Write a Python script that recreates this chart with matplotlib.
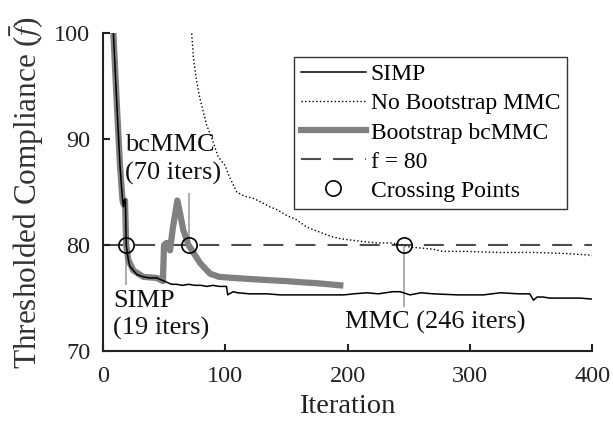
import matplotlib
matplotlib.use("Agg")
import matplotlib.pyplot as plt

plt.rcParams['font.family'] = ['Liberation Serif', 'DejaVu Serif']
plt.rcParams['mathtext.fontset'] = 'stix'

# ---- data ----
simp_x = [5, 8.5, 11, 13.9, 16, 16.8, 17.5, 18.3, 19, 20.7, 22, 24.8, 28, 33, 38, 44, 48, 52, 56, 60,
          65, 70, 75, 80, 85, 90, 95, 101, 102, 103.3, 106.6, 110, 120, 134, 145, 161, 175, 197, 205,
          216, 225, 237, 243, 251, 260, 270, 290, 311, 325, 340, 349, 352, 355, 360, 365, 379, 390, 400]
simp_y = [110, 100, 94, 87.5, 84.2, 83.6, 84.3, 84.3, 80, 78.6, 78.0, 77.6, 77.2, 77.0, 76.9, 76.9, 76.7,
          76.5, 76.3, 76.3, 76.2, 76.3, 76.2, 76.2, 76.1, 76.2, 76.1, 76.1, 75.3, 75.4, 75.6, 75.5, 75.4,
          75.4, 75.3, 75.3, 75.3, 75.3, 75.4, 75.5, 75.4, 75.6, 75.6, 75.3, 75.5, 75.4, 75.3, 75.3, 75.5,
          75.4, 75.4, 74.8, 75.1, 75.1, 75.0, 75.0, 75.0, 74.9]

mmc_x = [70, 72.5, 74, 76.6, 79.3, 82, 84.8, 88.9, 94.3, 99.8, 103.9, 109.4, 116, 123, 130, 136.6, 143,
         150, 158, 166.6, 173, 180, 187, 194, 207.5, 215, 224, 235, 240, 246, 251, 262, 270, 278, 297.5,
         310, 324.7, 351.9, 379, 398, 400]
mmc_y = [102, 100, 97.6, 95.4, 93.8, 92.6, 91.3, 90.1, 88.3, 87.5, 86.3, 85.0, 84.6, 84.4, 84.0, 83.6,
         83.3, 82.8, 82.4, 81.7, 81.4, 81.1, 80.8, 80.6, 80.4, 80.3, 80.2, 80.2, 80.1, 80.0, 79.8, 79.7,
         79.6, 79.4, 79.4, 79.35, 79.3, 79.3, 79.2, 79.05, 79.0]

bc_x = [5, 8.5, 11, 13.9, 16, 17, 18, 19, 20.7, 24.8, 33, 44, 49, 49.9, 52, 54.8, 57, 60.8, 63, 65.7,
        70, 75, 79.4, 87.5, 95, 106.6, 120, 134, 150, 161, 175, 185, 194]
bc_y = [110, 100, 94, 87.5, 84.2, 83.8, 84.2, 80, 78.6, 77.6, 77.0, 76.9, 76.6, 80, 80.2, 79.5, 81.5,
        84.2, 83.0, 81.4, 80, 79.1, 78.3, 77.3, 77.0, 76.9, 76.8, 76.7, 76.6, 76.5, 76.4, 76.3, 76.2]

threshold = 80
cross_x = [19, 70, 246]
cross_y = [80, 80, 80]
pointer_x = [19, 70, 246]
pointer_y0 = [83.6, 84.9, 80]
pointer_y1 = [76.2, 80, 74.2]

xticks = [0, 100, 200, 300, 400]
yticks = [70, 80, 90, 100]

# ---- figure ----
fig = plt.figure(figsize=(6.13, 4.22), dpi=100)
ax = fig.add_axes([0.168, 0.168, 0.798, 0.754])

gray = '#808080'
ax.vlines(pointer_x, pointer_y1, pointer_y0, colors='#a0a0a0', lw=1.2, zorder=1)
ax.plot(simp_x, simp_y, color='black', lw=1.1, label='SIMP', zorder=4)
ax.plot(mmc_x, mmc_y, color='black', lw=1.0, ls=':', label='No Bootstrap MMC', zorder=3)
ax.plot(bc_x, bc_y, color=gray, lw=4.5, label='Bootstrap bcMMC', zorder=2, solid_joinstyle='round')
ax.axhline(threshold, color='#4d4d4d', lw=1.5, dashes=(9.6, 5.8), label='f = 80', zorder=1.5)
ax.plot(cross_x, cross_y, ls='none', marker='o', ms=11, mfc='none', mec='black', mew=1.2,
        label='Crossing Points', zorder=5)

ax.set_xlim(0, 400)
ax.set_ylim(70, 100)
ax.set_xticks(xticks)
ax.set_yticks(yticks)
for s in ['top', 'right']:
    ax.spines[s].set_visible(False)
for s in ['left', 'bottom']:
    ax.spines[s].set_linewidth(1.5)
    ax.spines[s].set_color('#222222')
ax.tick_params(direction='in', length=5, width=1.5, labelsize=17.5, colors='#222222')
ax.tick_params(axis='x', pad=11)
ax.tick_params(axis='y', pad=9)

ax.set_xlabel('Iteration', fontsize=20.5, color='#222222', labelpad=5)
ax.set_ylabel(r'Thresholded Compliance ($\bar{f}$)', fontsize=22.5, color='#333333', labelpad=6)

ax.text(18, 90.5, 'bcMMC\n(70 iters)', fontsize=19, ha='left', va='top', color='#111111',
        linespacing=1.35)
ax.text(8.5, 75.8, 'SIMP\n(19 iters)', fontsize=19, ha='left', va='top', color='#111111',
        linespacing=1.3)
ax.text(272, 73.8, 'MMC (246 iters)', fontsize=19, ha='center', va='top', color='#111111')

leg = ax.legend(loc='upper right', bbox_to_anchor=(0.949, 0.925), borderaxespad=0, fontsize=17,
                fancybox=False, edgecolor='#333333', framealpha=1, handlelength=2.75,
                handletextpad=0.2, labelspacing=0.32, borderpad=0.3)
leg.get_frame().set_linewidth(1.0)

fig.savefig('out.png', dpi=100)
